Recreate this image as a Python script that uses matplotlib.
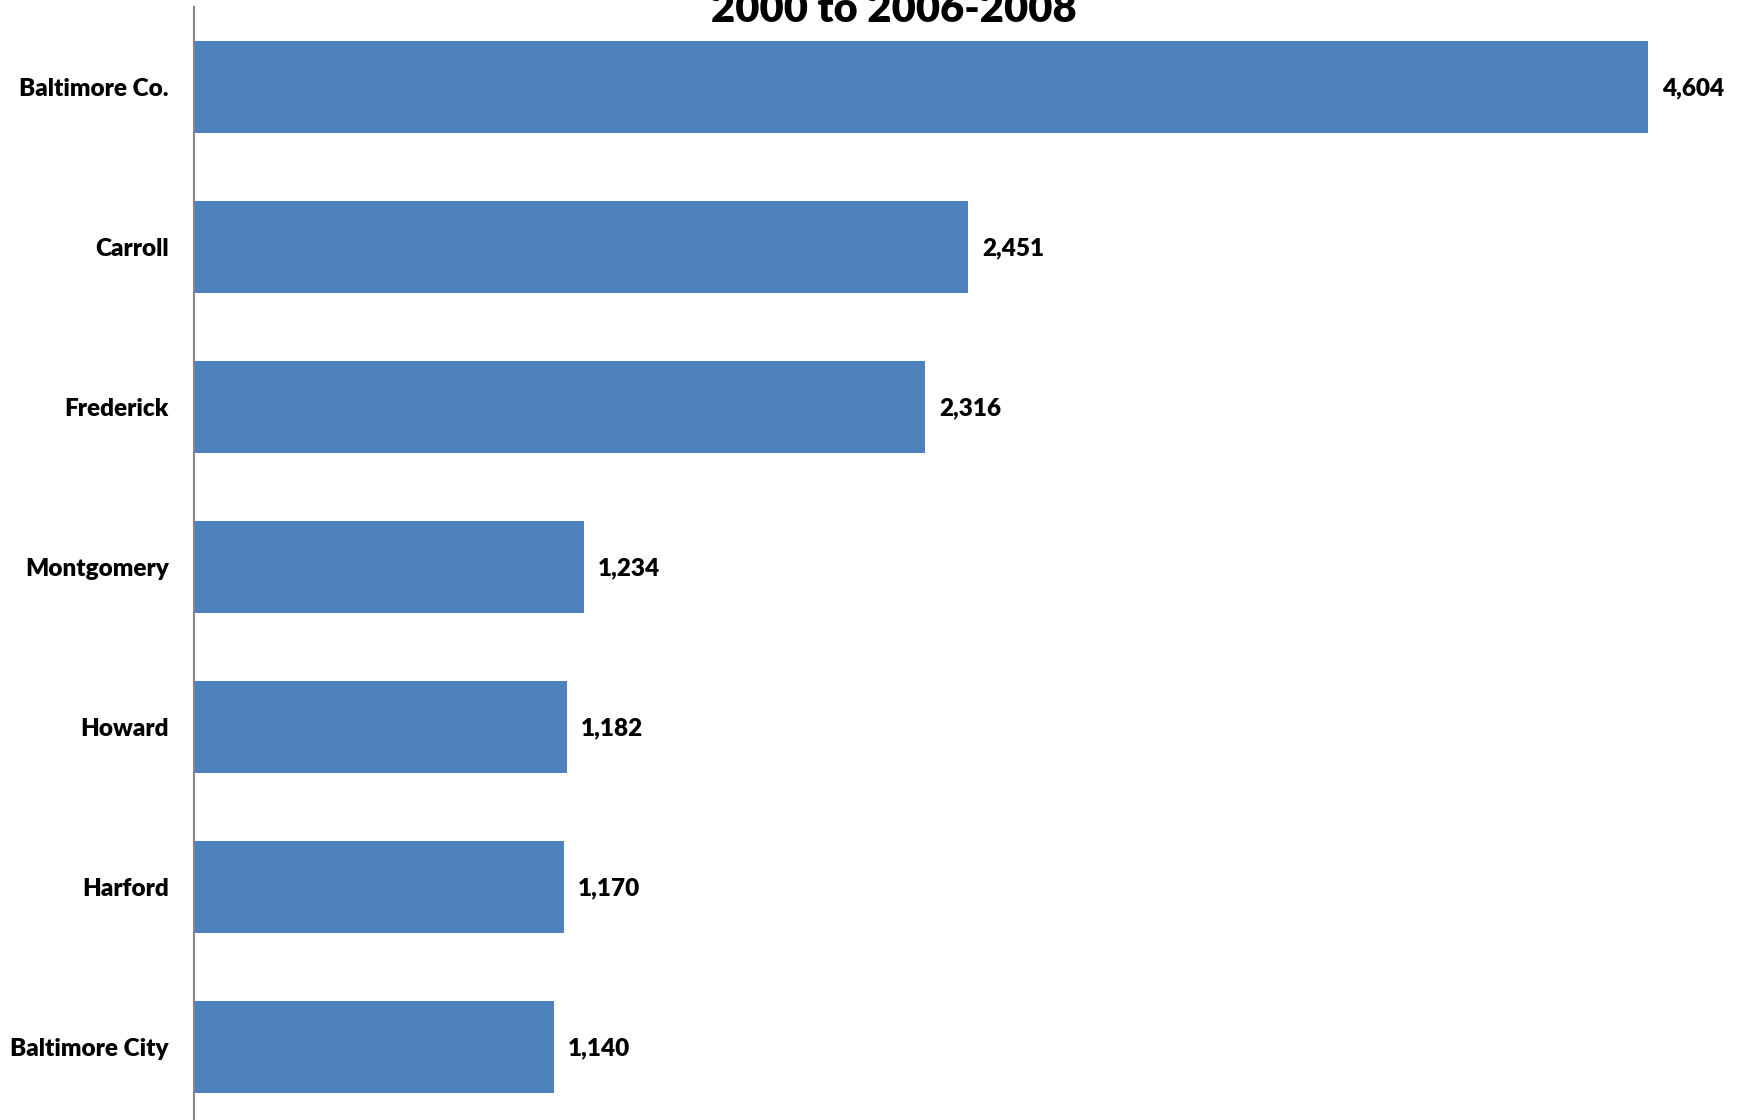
import matplotlib
matplotlib.use("Agg")
import matplotlib.pyplot as plt

categories = ["Baltimore Co.", "Carroll", "Frederick", "Montgomery", "Howard", "Harford", "Baltimore City"]
values = [4604, 2451, 2316, 1234, 1182, 1170, 1140]
value_labels = ["4,604", "2,451", "2,316", "1,234", "1,182", "1,170", "1,140"]
title_text = "2000 to 2006-2008"

plt.rcParams['font.family'] = ['Lato', 'DejaVu Sans']

W, H = 1740, 1120
fig = plt.figure(figsize=(W / 100, H / 100), dpi=100)
ax = fig.add_axes([194 / W, (H - 1127) / H, 1 - 194 / W, 1120 / H])

ypos = list(range(len(categories)))
bars = ax.barh(ypos, values, height=0.57, color="#4F81BD", edgecolor="none")
ax.set_ylim(len(categories) - 0.5, -0.5)
ax.set_xlim(0, (W - 194) / ((1648 - 194) / 4604))

ax.set_yticks(ypos)
ax.set_yticklabels(categories, fontsize=17.5, fontweight="heavy")
ax.tick_params(axis="y", length=0, pad=18)
ax.set_xticks([])
for s in ["top", "right", "bottom"]:
    ax.spines[s].set_visible(False)
ax.spines["left"].set_color("#868686")
ax.spines["left"].set_linewidth(1.5)

for b, lab in zip(bars, value_labels):
    ax.annotate(lab, xy=(b.get_width(), b.get_y() + b.get_height() / 2),
                xytext=(10, -1), textcoords="offset points",
                ha="left", va="center", fontsize=17.5, fontweight="heavy")

fig.text(894 / W, (H - 22) / H, title_text, ha="center", va="baseline",
         fontsize=30, fontweight="heavy")

fig.savefig("out.png", dpi=100, facecolor="white")
